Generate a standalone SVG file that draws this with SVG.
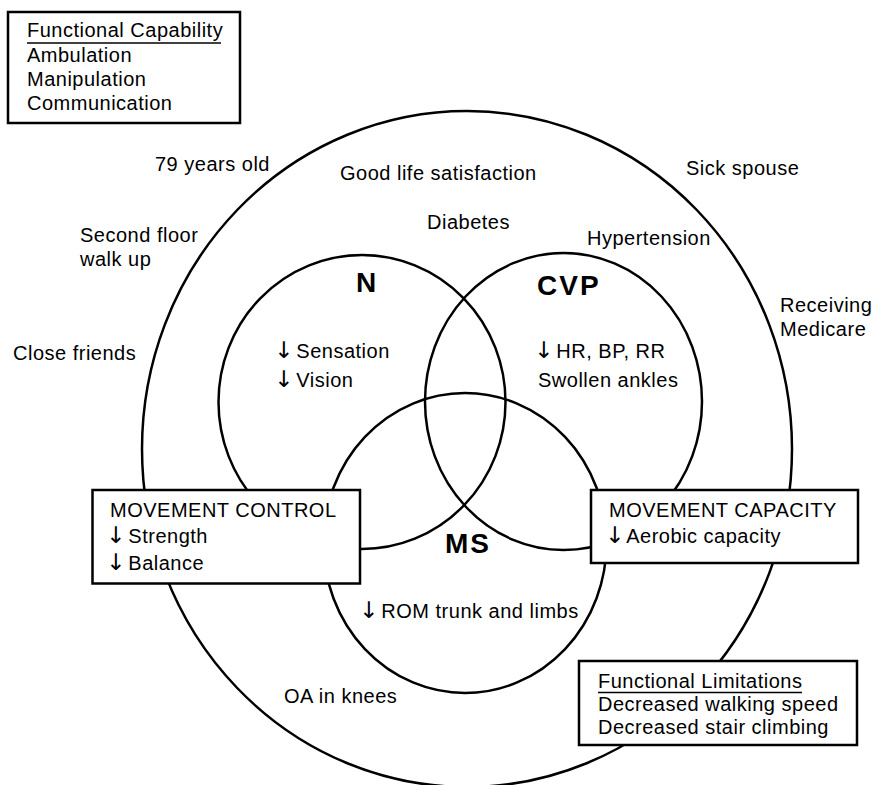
<svg xmlns="http://www.w3.org/2000/svg" width="873" height="785" viewBox="0 0 873 785">
  <style>
    .ring { fill: none; stroke: #000; stroke-width: 2.5; }
    .box { fill: #fff; stroke: #000; stroke-width: 2.5; }
    .t { font-family: "Liberation Sans", Arial, Helvetica, sans-serif; font-size: 20px; letter-spacing: 0.5px; fill: #000; }
    .arr { font-family: "DejaVu Sans", sans-serif; font-size: 23px; letter-spacing: -3px; }
    .big { font-family: "Liberation Sans", Arial, Helvetica, sans-serif; font-size: 28px; font-weight: bold; letter-spacing: 2px; fill: #000; }
    .ul { stroke: #000; stroke-width: 1.5; }
  </style>
  <rect width="873" height="785" fill="#fff"/>

  <!-- outer environment ring -->
  <g id="environment">
    <ellipse class="ring" cx="467" cy="449" rx="325" ry="338"/>
  </g>

  <!-- three overlapping system circles -->
  <g id="n-circle">
    <ellipse class="ring" cx="362" cy="402" rx="143.5" ry="147"/>
  </g>
  <g id="cvp-circle">
    <ellipse class="ring" cx="563.5" cy="401.5" rx="138.5" ry="148.5"/>
  </g>
  <g id="ms-circle">
    <ellipse class="ring" cx="465" cy="543" rx="141.5" ry="150"/>
  </g>

  <!-- free-standing labels -->
  <g id="labels">
    <text class="t" x="155" y="171">79 years old</text>
    <text class="t" x="340" y="180">Good life satisfaction</text>
    <text class="t" x="686" y="175">Sick spouse</text>
    <text class="t" x="427" y="229">Diabetes</text>
    <text class="t" x="80" y="242">Second floor</text>
    <text class="t" x="80" y="266">walk up</text>
    <text class="t" x="587" y="245">Hypertension</text>
    <text class="t" x="780" y="312">Receiving</text>
    <text class="t" x="780" y="336">Medicare</text>
    <text class="t" x="13" y="360">Close friends</text>
    <text class="big" x="356" y="292">N</text>
    <text class="big" x="537" y="295">CVP</text>
    <text class="t" x="274" y="358"><tspan class="arr">↓</tspan> Sensation</text>
    <text class="t" x="274" y="387"><tspan class="arr">↓</tspan> Vision</text>
    <text class="t" x="534" y="358"><tspan class="arr">↓</tspan> HR, BP, RR</text>
    <text class="t" x="538" y="387">Swollen ankles</text>
    <text class="big" x="445" y="553">MS</text>
    <text class="t" x="359" y="618"><tspan class="arr">↓</tspan> ROM trunk and limbs</text>
    <text class="t" x="284" y="703">OA in knees</text>
  </g>

  <g id="functional-capability">
    <rect class="box" x="8" y="12" width="232" height="111"/>
    <text class="t" x="27" y="37">Functional Capability</text>
    <line class="ul" x1="27" y1="43" x2="221" y2="43"/>
    <text class="t" x="27" y="62">Ambulation</text>
    <text class="t" x="27" y="86">Manipulation</text>
    <text class="t" x="27" y="110">Communication</text>
  </g>

  <g id="movement-control">
    <rect class="box" x="92.5" y="490" width="267.5" height="93.5"/>
    <text class="t" x="110" y="517">MOVEMENT CONTROL</text>
    <text class="t" x="106" y="543"><tspan class="arr">↓</tspan> Strength</text>
    <text class="t" x="106" y="570"><tspan class="arr">↓</tspan> Balance</text>
  </g>

  <g id="movement-capacity">
    <rect class="box" x="591" y="490" width="267" height="73"/>
    <text class="t" x="609" y="517">MOVEMENT CAPACITY</text>
    <text class="t" x="605" y="543"><tspan class="arr">↓</tspan> Aerobic capacity</text>
  </g>

  <g id="functional-limitations">
    <rect class="box" x="579" y="661" width="278" height="84"/>
    <text class="t" x="598" y="688">Functional Limitations</text>
    <line class="ul" x1="598" y1="692.5" x2="802" y2="692.5"/>
    <text class="t" x="598" y="711">Decreased walking speed</text>
    <text class="t" x="598" y="734">Decreased stair climbing</text>
  </g>
</svg>
